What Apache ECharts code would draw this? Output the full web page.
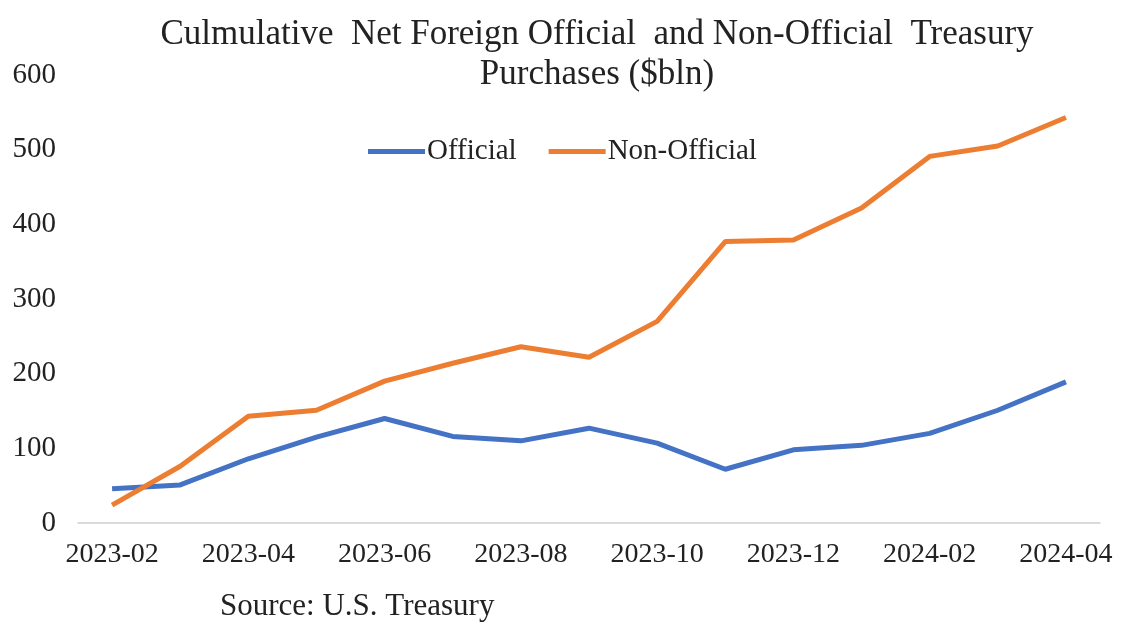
<!DOCTYPE html>
<html>
<head>
<meta charset="utf-8">
<script src="https://cdn.jsdelivr.net/npm/echarts@6/dist/echarts.min.js"></script>
<style>
  html, body { margin: 0; padding: 0; background: #fff; }
  #chart { width: 1121px; height: 625px; }
</style>
</head>
<body>
<div id="chart"></div>
<script>
  // months on the x axis
  const months = ['2023-02','2023-03','2023-04','2023-05','2023-06','2023-07','2023-08','2023-09',
                  '2023-10','2023-11','2023-12','2024-01','2024-02','2024-03','2024-04'];
  // cumulative purchases, $bln
  const official    = [46, 51, 86, 115, 140, 116, 110, 127, 107, 72, 98, 104, 120, 151, 189];
  const nonOfficial = [24, 76, 143, 151, 190, 214, 236, 222, 270, 377, 379, 422, 491, 505, 543];

  const serif = '"Liberation Serif", "Times New Roman", serif';

  let myChart = echarts.init(document.getElementById('chart'));
  let option = {
    backgroundColor: '#fff',
    textStyle: { fontFamily: serif },
    title: {
      text: 'Culmulative  Net Foreign Official  and Non-Official  Treasury\nPurchases ($bln)',
      left: 592,
      textAlign: 'center',
      top: 10,
      textStyle: {
        fontFamily: serif,
        fontWeight: 'normal',
        fontSize: 35,
        lineHeight: 40,
        color: '#222'
      }
    },
    legend: {
      data: ['Official', 'Non-Official'],
      left: 363,
      top: 132,
      icon: 'rect',
      itemWidth: 57,
      itemHeight: 5,
      itemGap: 32,
      textStyle: {
        fontFamily: serif,
        fontSize: 29,
        color: '#222',
        padding: [0, 0, 0, -3]
      }
    },
    grid: {
      left: 78,
      right: 21,
      top: 75,
      bottom: 102
    },
    xAxis: {
      type: 'category',
      data: months,
      boundaryGap: true,
      axisLine: { lineStyle: { color: '#d0d0d0', width: 1.5 } },
      axisTick: { show: false },
      axisLabel: {
        interval: 1,
        fontFamily: serif,
        fontSize: 28,
        color: '#222',
        margin: 18
      }
    },
    yAxis: {
      type: 'value',
      min: 0,
      max: 600,
      interval: 100,
      axisLine: { show: false },
      axisTick: { show: false },
      splitLine: { show: false },
      axisLabel: {
        fontFamily: serif,
        fontSize: 29,
        color: '#222',
        margin: 22
      }
    },
    graphic: [{
      type: 'text',
      left: 220,
      top: 591,
      style: {
        text: 'Source: U.S. Treasury',
        font: '31px ' + serif,
        fill: '#222'
      }
    }],
    series: [
      {
        name: 'Official',
        type: 'line',
        data: official,
        symbol: 'none',
        color: '#4472C4',
        lineStyle: { width: 5, color: '#4472C4' }
      },
      {
        name: 'Non-Official',
        type: 'line',
        data: nonOfficial,
        symbol: 'none',
        color: '#ED7D31',
        lineStyle: { width: 5, color: '#ED7D31' }
      }
    ]
  };
  myChart.setOption(option);
</script>
</body>
</html>
